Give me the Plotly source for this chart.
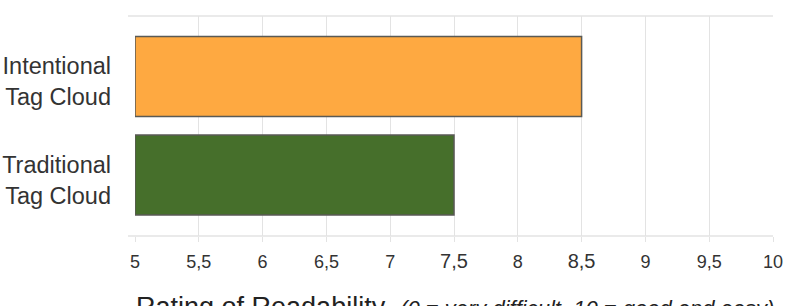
import plotly.graph_objects as go

categories = ["Traditional<br>Tag Cloud", "Intentional<br>Tag Cloud"]
values = [7.5, 8.5]
colors = ["#466f2b", "#fea941"]
x_tick_vals = [5, 5.5, 6, 6.5, 7, 7.5, 8, 8.5, 9, 9.5, 10]
x_tick_text = ["5", "5,5", "6", "6,5", "7", "7,5", "8", "8,5", "9", "9,5", "10"]
big_ticks = ["7,5", "8,5"]
base_value = 5

ypos = list(range(len(categories)))

fig = go.Figure()
fig.add_trace(go.Bar(
    y=ypos,
    x=[v - base_value for v in values],
    base=base_value,
    orientation="h",
    width=0.81,
    marker=dict(color=colors, line=dict(color="#5a5a55", width=1.5)),
    hoverinfo="skip",
))

ticktext = [f"<span style='font-size:20px'>{t}</span>" if t in big_ticks else t for t in x_tick_text]

fig.update_layout(
    width=788, height=306,
    margin=dict(l=135, r=15, t=16, b=70, autoexpand=False),
    plot_bgcolor="white", paper_bgcolor="white",
    font=dict(family="Liberation Sans, Arial, sans-serif", color="#333333"),
    showlegend=False,
    xaxis=dict(
        range=[5, 10], tickvals=x_tick_vals, ticktext=ticktext,
        tickfont=dict(size=18, color="#333333"),
        showgrid=True, gridcolor="#e3e3e3", gridwidth=1,
        ticks="outside", ticklen=5, tickcolor="#e3e3e3",
        ticklabelstandoff=4,
        zeroline=False, showline=False, fixedrange=True, automargin=False,
    ),
    yaxis=dict(
        range=[-0.619, 1.614], tickvals=ypos, ticktext=categories,
        tickfont=dict(size=23.5, color="#333333"),
        showgrid=False, zeroline=False, showline=False,
        ticks="", ticklabelstandoff=23, ticklabelshift=5, automargin=False,
    ),
)

for yv in (0, 1):
    fig.add_shape(type="line", xref="paper", yref="paper",
                  x0=-0.011, x1=1, y0=yv, y1=yv,
                  line=dict(color="#e3e3e3", width=1.5), layer="below")

fig.add_annotation(
    xref="paper", yref="paper", x=0.502, y=-0.246, yanchor="top", xanchor="center",
    showarrow=False,
    text="Rating of Readability &nbsp;<i><span style='font-size:22px'>(0 = very difficult, 10 = good and easy)</span></i>",
    font=dict(size=27, color="#222222"),
)

fig.write_html("out.html")
